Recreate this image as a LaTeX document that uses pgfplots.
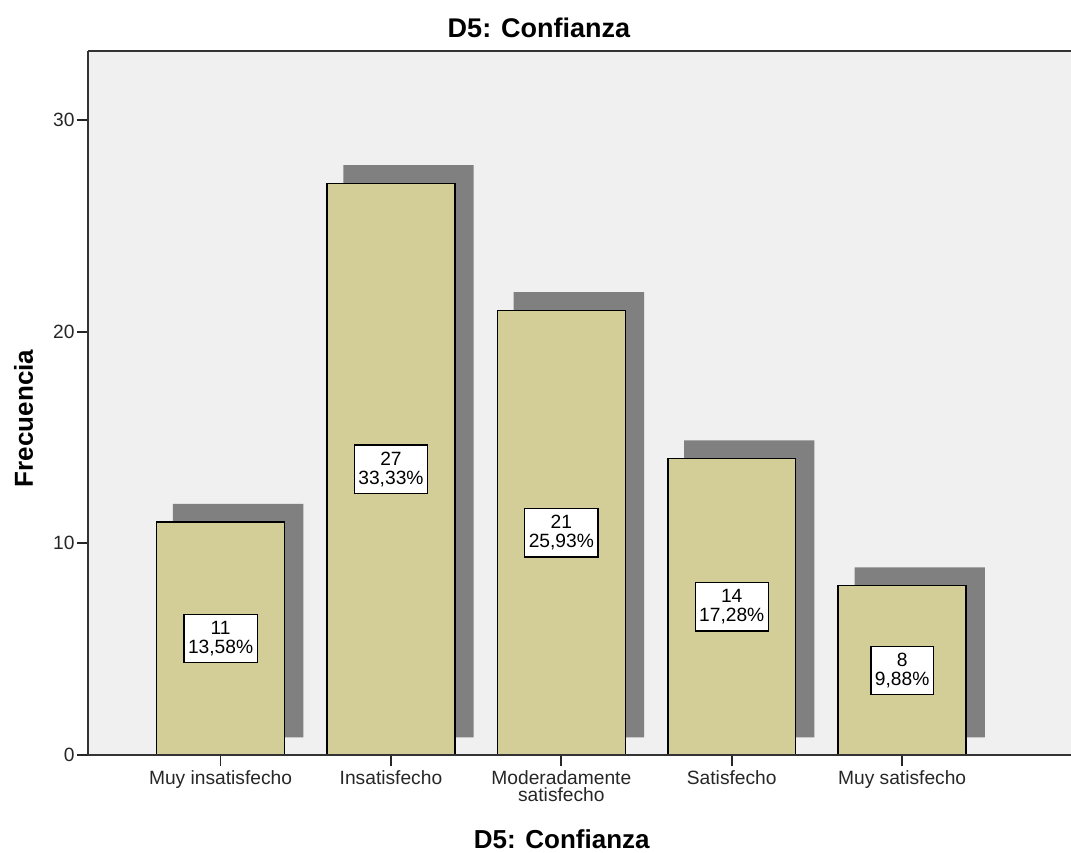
\documentclass[border=0pt]{standalone}
\usepackage{pgfplots}
\usepackage{pgfplotstable}
\pgfplotsset{compat=1.18}
\usepackage{fontspec}
\setmainfont{Liberation Sans}
\definecolor{bgc}{HTML}{F0F0F0}
\definecolor{barc}{HTML}{D3CE97}
\definecolor{shc}{HTML}{808080}
\pgfplotstableread{
x y
0 11
1 27
2 21
3 14
4 8
}\datatab
\begin{document}
\begin{tikzpicture}
\useasboundingbox (-44pt,-48.5pt) rectangle (491.5pt,377.5pt);
\begin{axis}[
  at={(0,0)}, anchor=south west,
  scale only axis, width=491.5pt, height=352pt,
  xmin=-0.778, xmax=4.991, ymin=0, ymax=33.26,
  axis y line*=left,
  axis background/.style={fill=bgc},
  axis line style={black!80, line width=1pt},
  axis on top,
  tick align=outside, major tick length=5.5pt,
  xtick pos=left,
  tick style={black!85, line width=0.9pt},
  xtick={0,1,2,3,4},
  xticklabels={Muy insatisfecho,Insatisfecho,{Moderadamente\\satisfecho},Satisfecho,Muy satisfecho},
  xticklabel style={align=center, font={\fontsize{9.6}{8.4}\selectfont}, inner sep=2pt, text=black!85},
  ytick={0,10,20,30}, minor ytick={},
  yticklabel style={font={\fontsize{9.6}{11}\selectfont}, inner sep=1pt, text=black!85},
  /pgf/number format/assume math mode=true,
  title={D5: Confianza},
  every axis title/.style={font={\fontsize{13.5}{15}\selectfont\bfseries}, at={(axis description cs:0.4588,1.0192)}, anchor=base},
  xlabel={D5: Confianza},
  every axis x label/.style={font={\fontsize{13}{15}\selectfont\bfseries}, at={(axis description cs:0.482,-0.1321)}, anchor=base},
  ylabel={Frecuencia},
  every axis y label/.style={font={\fontsize{13}{15}\selectfont\bfseries}, at={(axis description cs:-0.05595,0.478)}, rotate=90, anchor=base},
]
% shadows
\addplot[ybar, bar width=0.765, bar shift=0.103, fill=shc, draw=none]
  table[x=x, y expr=\thisrow{y}+0.865] {\datatab};
% cover the shadow below its raised base
\addplot[ybar, bar width=0.80, bar shift=0.103, fill=bgc, draw=none]
  table[x=x, y expr=0.835] {\datatab};
% main bars
\addplot[ybar, bar width=0.75, bar shift=0, fill=barc, draw=black, line width=0.75pt]
  table[x=x, y=y] {\datatab};
% value labels
\addplot[draw=none, mark=none, nodes near coords, point meta=explicit symbolic,
  every node near coord/.style={anchor=center, fill=white, draw=black, line width=0.6pt,
    inner xsep=2pt, inner ysep=3.5pt, align=center, font={\fontsize{9.6}{9.3}\selectfont}}]
  coordinates {
    (0,5.5) [11\\13,58\%]
    (1,13.5) [27\\33,33\%]
    (2,10.5) [21\\25,93\%]
    (3,7) [14\\17,28\%]
    (4,4) [8\\9,88\%]
  };
\end{axis}
\end{tikzpicture}
\end{document}
